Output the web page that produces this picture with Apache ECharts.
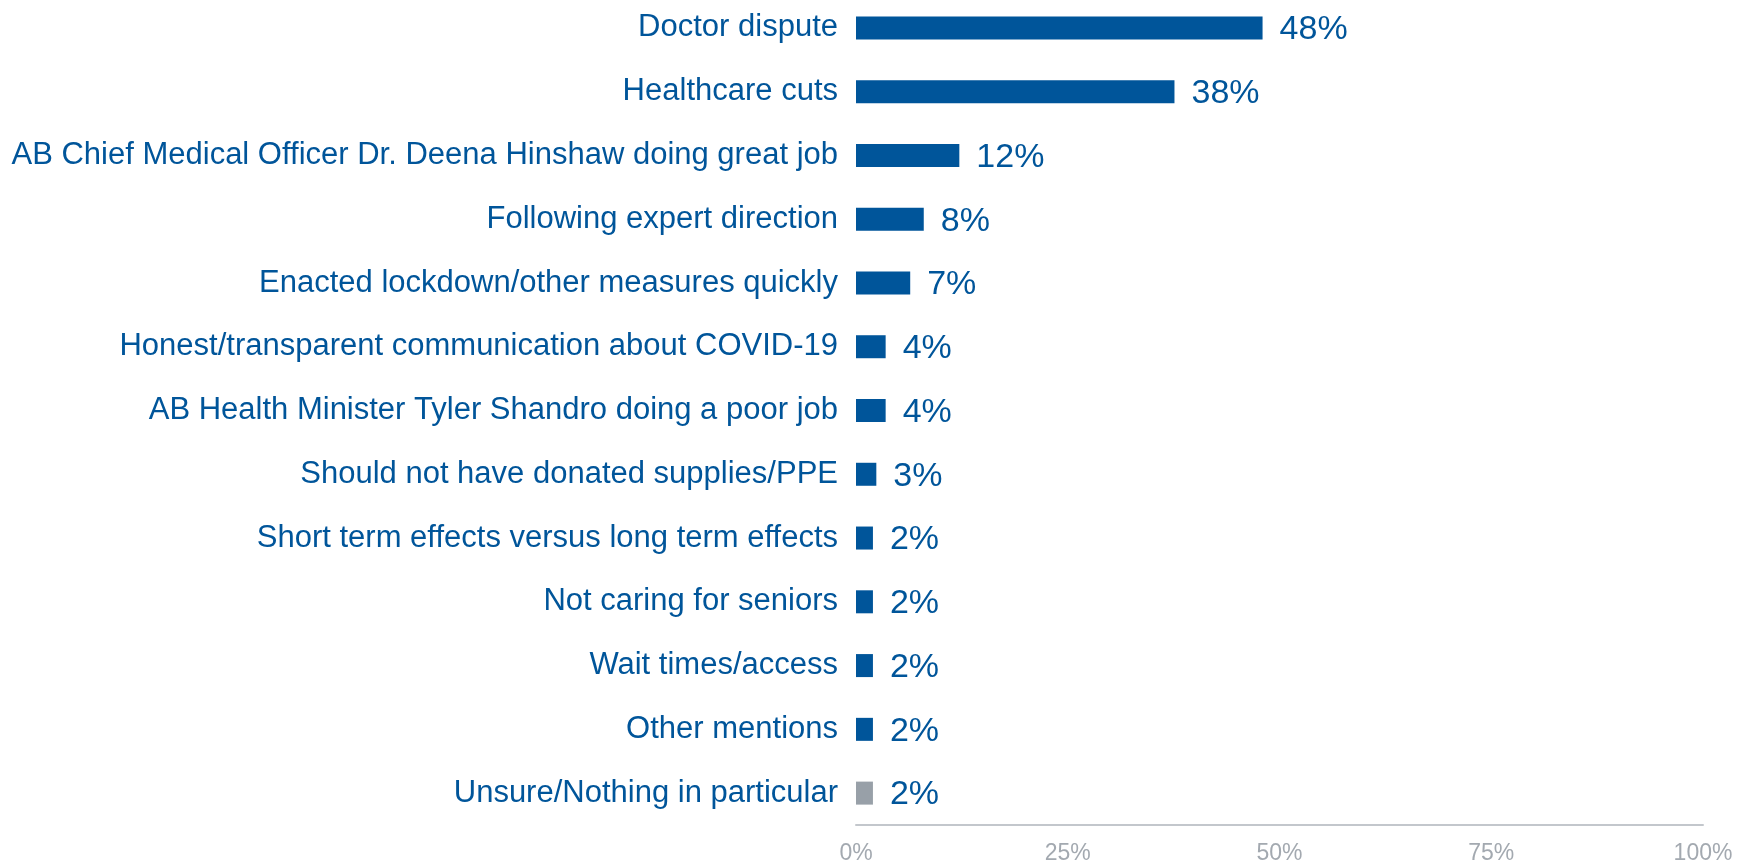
<!DOCTYPE html>
<html>
<head>
<meta charset="utf-8">
<title>Chart</title>
<script src="https://cdn.jsdelivr.net/npm/echarts@6/dist/echarts.min.js"></script>
<style>
  html, body { margin: 0; padding: 0; background: #fff; overflow: hidden; }
  /* the plot starts a few px above the page top in the original */
  #chart { width: 1739px; height: 869px; margin-top: -4px; }
</style>
</head>
<body>
<div id="chart"></div>
<script>
// categories, top to bottom
const categories = [
  'Doctor dispute',
  'Healthcare cuts',
  'AB Chief Medical Officer Dr. Deena Hinshaw doing great job',
  'Following expert direction',
  'Enacted lockdown/other measures quickly',
  'Honest/transparent communication about COVID-19',
  'AB Health Minister Tyler Shandro doing a poor job',
  'Should not have donated supplies/PPE',
  'Short term effects versus long term effects',
  'Not caring for seniors',
  'Wait times/access',
  'Other mentions',
  'Unsure/Nothing in particular'
]
// bar lengths (%)
const values = [48, 37.6, 12.2, 8, 6.4, 3.5, 3.5, 2.4, 2, 2, 2, 2, 2]
// printed labels
const valueLabels = ['48%', '38%', '12%', '8%', '7%', '4%', '4%', '3%', '2%', '2%', '2%', '2%', '2%']
const xTicks = [0, 25, 50, 75, 100]

const blue = '#00559A'
const grey = '#98A0A8'

const chart = echarts.init(document.getElementById('chart'), null, { width: 1739, height: 869 })

const option = {
  animation: false,
  textStyle: { fontFamily: 'Liberation Sans, Arial, sans-serif' },
  grid: { left: 856, right: 36, top: 0, bottom: 34, containLabel: false },
  xAxis: {
    type: 'value',
    min: xTicks[0],
    max: xTicks[xTicks.length - 1],
    interval: 25,
    splitLine: { show: false },
    axisTick: { show: false },
    axisLine: { show: true, lineStyle: { color: '#c3c7cc', width: 2 } },
    axisLabel: {
      color: '#a3a9b0',
      fontFamily: 'Liberation Sans Narrow, Arial Narrow, sans-serif',
      fontSize: 23,
      margin: 17,
      formatter: v => v + '%'
    }
  },
  yAxis: {
    type: 'category',
    data: categories,
    inverse: true,
    axisLine: { show: false },
    axisTick: { show: false },
    axisLabel: { color: blue, fontSize: 31, margin: 18 }
  },
  series: [{
    type: 'bar',
    barWidth: 23,
    data: values.map((v, i) => ({
      value: v,
      itemStyle: { color: i === values.length - 1 ? grey : blue }
    })),
    label: {
      show: true,
      position: 'right',
      distance: 17,
      offset: [0, 2],
      color: blue,
      fontSize: 34,
      formatter: p => valueLabels[p.dataIndex]
    }
  }]
}

chart.setOption(option)
</script>
</body>
</html>
